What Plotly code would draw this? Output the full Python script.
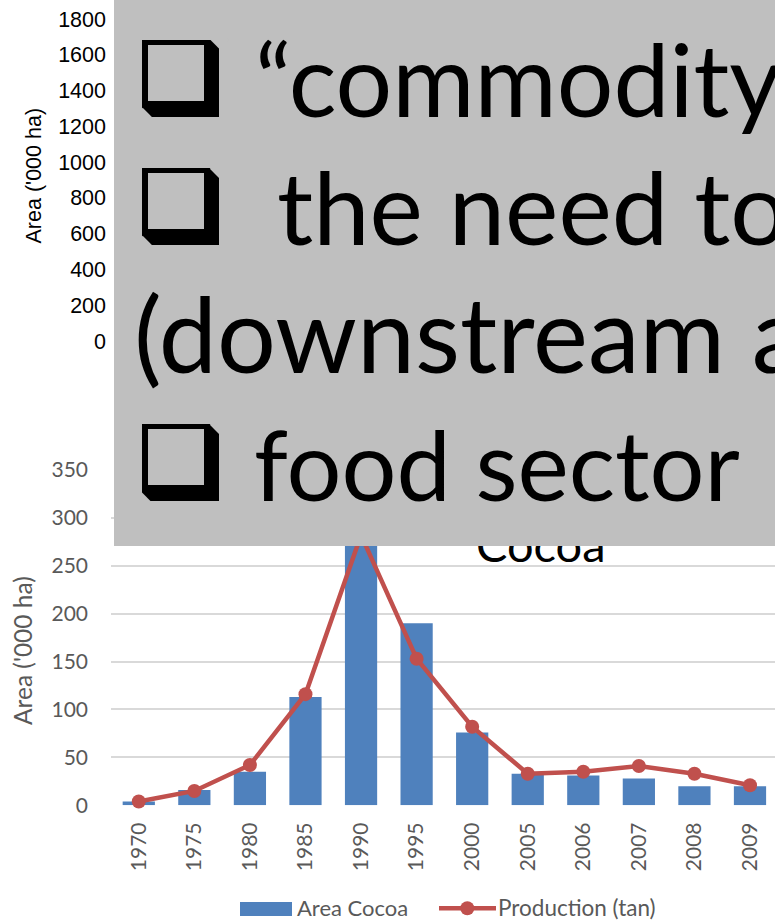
import plotly.graph_objects as go

# ---------------- data ----------------
years = ["1970", "1975", "1980", "1985", "1990", "1995", "2000",
         "2005", "2006", "2007", "2008", "2009"]
area_cocoa = [4, 16, 35, 113, 300, 190, 76, 33, 31, 28, 20, 20]
production = [4, 15, 42, 116, 282, 153, 82, 33, 35, 41, 33, 21]
bottom_ticks = [0, 50, 100, 150, 200, 250, 300, 350]
top_ticks = [0, 200, 400, 600, 800, 1000, 1200, 1400, 1600, 1800]

bullet_lines = ["\u201ccommodity trap\u201d", "the need to add value",
                "(downstream activities)", "food sector"]

W, H = 775, 920


def px(x):
    return x / W


def py(y):
    return 1 - y / H


BLUE = "#4F81BD"
RED = "#C0504D"
GREY_TXT = "#595959"
BOX = "#BFBFBF"

fig = go.Figure()
fig.add_bar(x=years, y=area_cocoa, name="Area Cocoa", marker_color=BLUE,
            marker_line_width=0)
fig.add_scatter(x=years, y=production, name="Production (tan)",
                mode="lines+markers", line=dict(color=RED, width=4.5),
                marker=dict(size=14, color=RED), cliponaxis=False)
# upper (covered) chart keeps only its axis
fig.add_scatter(x=[], y=[], xaxis="x2", yaxis="y2", showlegend=False)

ann = []
# chart title, mostly hidden under the grey box
ann.append(dict(text="Cocoa", x=px(541), y=py(562.3 - 0.987 * 47),
                xanchor="center", yanchor="top",
                font=dict(family="Lato", size=47, color="black")))
# grey text box
ann.append(dict(text=" ", x=px(114), y=py(0), xanchor="left", yanchor="top",
                width=670, height=546, bgcolor=BOX,
                font=dict(size=10)))
# bullets
for top in [40, 168, 424]:
    ann.append(dict(text=" ", x=px(142), y=py(top), xanchor="left",
                    yanchor="top", width=77, height=77, bgcolor="black",
                    font=dict(size=6)))
    ann.append(dict(text=" ", x=px(147.7), y=py(top + 4.7), xanchor="left",
                    yanchor="top", width=56.3, height=56.3, bgcolor=BOX,
                    font=dict(size=6)))
    for cx, cy in [(219, top), (142, top + 77)]:
        ann.append(dict(text=" ", x=px(cx), y=py(cy), xanchor="center",
                        yanchor="middle", width=13.4, height=13.4,
                        bgcolor=BOX, textangle=45, font=dict(size=6)))

for txt, left, base, S in zip(bullet_lines, [255, 277, 134, 254],
                              [117, 245, 373, 501], [100, 101, 104, 97]):
    ann.append(dict(text=txt, x=px(left), y=py(base - 0.987 * S),
                    xanchor="left", yanchor="top",
                    font=dict(family="Lato", size=S, color="black")))

# axis titles
ann.append(dict(text="Area ('000 ha)", x=px(22), y=py(651), textangle=-90,
                xanchor="center", yanchor="middle",
                font=dict(family="Lato", size=24.5, color=GREY_TXT)))
ann.append(dict(text="Area ('000 ha)", x=px(33), y=py(175.5), textangle=-90,
                xanchor="center", yanchor="middle",
                font=dict(family="Liberation Sans", size=21.5, color="black")))

# legend texts
ann.append(dict(text="Area Cocoa", x=px(297), y=py(915.7 - 0.987 * 22),
                xanchor="left", yanchor="top",
                font=dict(family="Lato", size=22, color=GREY_TXT)))
ann.append(dict(text="Production (tan)", x=px(498), y=py(915.7 - 0.987 * 22),
                xanchor="left", yanchor="top",
                font=dict(family="Lato", size=22.5, color=GREY_TXT)))

for a in ann:
    a.update(showarrow=False, xref="paper", yref="paper", borderpad=0,
             borderwidth=0)

shapes = [
    dict(type="rect", xref="paper", yref="paper", x0=px(240), x1=px(292),
         y0=py(916), y1=py(902), fillcolor=BLUE, line_width=0),
    dict(type="line", xref="paper", yref="paper", x0=px(439), x1=px(496),
         y0=py(908.3), y1=py(908.3), line=dict(color=RED, width=4.5)),
    dict(type="circle", xref="paper", yref="paper", x0=px(460.3),
         x1=px(474.3), y0=py(915.3), y1=py(901.3), fillcolor=RED,
         line_width=0),
]

fig.update_layout(
    width=W, height=H,
    margin=dict(l=0, r=0, t=0, b=0, pad=0, autoexpand=False),
    paper_bgcolor="white", plot_bgcolor="white", showlegend=False,
    bargap=0.42,
    xaxis=dict(domain=[px(111), 1], type="category", range=[-0.5, 11.45],
               tickangle=-90, ticks="", showgrid=False, showline=False,
               zeroline=False, ticklabelstandoff=12, automargin=False,
               tickfont=dict(family="Lato", size=21, color=GREY_TXT)),
    yaxis=dict(domain=[py(805.3), py(469.9)], range=[0, 350],
               tickvals=bottom_ticks, showgrid=True, gridcolor="#D9D9D9",
               gridwidth=1.5, zeroline=False, showline=False, ticks="",
               ticklabelstandoff=22, automargin=False,
               tickfont=dict(family="Lato", size=21, color=GREY_TXT)),
    xaxis2=dict(domain=[px(111), 1], anchor="y2", visible=False),
    yaxis2=dict(domain=[py(341), py(19)], range=[0, 1800], anchor="x2",
                tickvals=top_ticks, showgrid=False, zeroline=False,
                showline=False, ticks="", ticklabelstandoff=4,
                automargin=False,
                tickfont=dict(family="Liberation Sans", size=21.5,
                              color="black")),
    annotations=ann, shapes=shapes,
)

fig.write_html("out.html")
